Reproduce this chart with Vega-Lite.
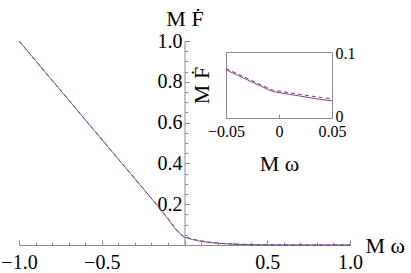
{
  "$schema": "https://vega.github.io/schema/vega-lite/v6.json",
  "width": 331,
  "height": 204,
  "autosize": "none",
  "padding": {"left": 19, "top": 41, "right": 61, "bottom": 28},
  "background": "white",
  "config": {
    "font": "Liberation Serif",
    "view": {"stroke": null},
    "axis": {
      "grid": false,
      "labelFont": "Liberation Serif",
      "titleFont": "Liberation Serif",
      "labelColor": "black",
      "titleColor": "black",
      "titleFontWeight": "normal",
      "domainColor": "#8c8c8c",
      "tickColor": "#8c8c8c",
      "domainWidth": 1,
      "tickWidth": 1,
      "labelFlush": false,
      "labelOverlap": false,
      "labelBound": false
    }
  },
  "datasets": {
    "main": [
      {"w": -1.0, "F": 1.0, "s": "a"}, {"w": -0.9, "F": 0.904, "s": "a"}, {"w": -0.8, "F": 0.807, "s": "a"},
      {"w": -0.7, "F": 0.711, "s": "a"}, {"w": -0.6, "F": 0.614, "s": "a"}, {"w": -0.5, "F": 0.518, "s": "a"},
      {"w": -0.4, "F": 0.421, "s": "a"}, {"w": -0.3, "F": 0.325, "s": "a"}, {"w": -0.2, "F": 0.228, "s": "a"},
      {"w": -0.15, "F": 0.18, "s": "a"}, {"w": -0.1, "F": 0.128, "s": "a"}, {"w": -0.05, "F": 0.073, "s": "a"},
      {"w": -0.006, "F": 0.0402, "s": "a"}, {"w": 0.0, "F": 0.0385, "s": "a"}, {"w": 0.05, "F": 0.026, "s": "a"},
      {"w": 0.1, "F": 0.018, "s": "a"}, {"w": 0.15, "F": 0.0125, "s": "a"}, {"w": 0.2, "F": 0.0085, "s": "a"},
      {"w": 0.25, "F": 0.0058, "s": "a"}, {"w": 0.3, "F": 0.004, "s": "a"}, {"w": 0.4, "F": 0.0018, "s": "a"},
      {"w": 0.5, "F": 0.0008, "s": "a"}, {"w": 0.6, "F": 0.0003, "s": "a"}, {"w": 0.8, "F": 0.0001, "s": "a"},
      {"w": 1.0, "F": 0.0, "s": "a"},
      {"w": -1.0, "F": 1.0, "s": "b"}, {"w": -0.9, "F": 0.904, "s": "b"}, {"w": -0.8, "F": 0.807, "s": "b"},
      {"w": -0.7, "F": 0.711, "s": "b"}, {"w": -0.6, "F": 0.614, "s": "b"}, {"w": -0.5, "F": 0.518, "s": "b"},
      {"w": -0.4, "F": 0.421, "s": "b"}, {"w": -0.3, "F": 0.325, "s": "b"}, {"w": -0.2, "F": 0.229, "s": "b"},
      {"w": -0.15, "F": 0.181, "s": "b"}, {"w": -0.1, "F": 0.13, "s": "b"}, {"w": -0.05, "F": 0.075, "s": "b"},
      {"w": -0.006, "F": 0.0422, "s": "b"}, {"w": 0.0, "F": 0.0408, "s": "b"}, {"w": 0.05, "F": 0.029, "s": "b"},
      {"w": 0.1, "F": 0.0205, "s": "b"}, {"w": 0.15, "F": 0.0142, "s": "b"}, {"w": 0.2, "F": 0.0097, "s": "b"},
      {"w": 0.25, "F": 0.0066, "s": "b"}, {"w": 0.3, "F": 0.0045, "s": "b"}, {"w": 0.4, "F": 0.002, "s": "b"},
      {"w": 0.5, "F": 0.0009, "s": "b"}, {"w": 0.6, "F": 0.0004, "s": "b"}, {"w": 0.8, "F": 0.0001, "s": "b"},
      {"w": 1.0, "F": 0.0, "s": "b"}
    ],
    "insetA": [
      {"w": -0.05, "F": 0.073}, {"w": -0.04, "F": 0.0655}, {"w": -0.03, "F": 0.058}, {"w": -0.02, "F": 0.0505},
      {"w": -0.01, "F": 0.043}, {"w": -0.006, "F": 0.0402}, {"w": 0.0, "F": 0.0385}, {"w": 0.01, "F": 0.0357},
      {"w": 0.02, "F": 0.0332}, {"w": 0.03, "F": 0.0305}, {"w": 0.04, "F": 0.028}, {"w": 0.05, "F": 0.026}
    ],
    "insetB": [
      {"w": -0.05, "F": 0.075}, {"w": -0.04, "F": 0.0675}, {"w": -0.03, "F": 0.06}, {"w": -0.02, "F": 0.0525},
      {"w": -0.01, "F": 0.045}, {"w": -0.006, "F": 0.0422}, {"w": 0.0, "F": 0.0408}, {"w": 0.01, "F": 0.0382},
      {"w": 0.02, "F": 0.0358}, {"w": 0.03, "F": 0.0333}, {"w": 0.04, "F": 0.031}, {"w": 0.05, "F": 0.029}
    ]
  },
  "resolve": {"scale": {"x": "independent", "y": "independent"}, "axis": {"x": "independent", "y": "independent"}},
  "layer": [
    {
      "data": {"name": "main"},
      "mark": {"type": "line", "strokeWidth": 1, "clip": false},
      "encoding": {
        "x": {
          "field": "w", "type": "quantitative",
          "scale": {"domain": [-1, 1], "nice": false, "zero": false},
          "axis": {
            "orient": "bottom",
            "values": [-1, -0.9, -0.8, -0.7, -0.6, -0.5, -0.4, -0.3, -0.2, -0.1, 0, 0.1, 0.2, 0.3, 0.4, 0.5, 0.6, 0.7, 0.8, 0.9, 1],
            "labelExpr": "abs(datum.value) > 0.001 && abs(datum.value*2 - round(datum.value*2)) < 0.001 ? format(datum.value, '.1f') : ''",
            "tickSize": {"condition": {"test": "abs(datum.value*2 - round(datum.value*2)) < 0.001", "value": -5}, "value": -3},
            "labelPadding": 12.5,
            "labelFont": "Liberation Serif",
            "labelFontSize": 20,
            "title": "M ω",
            "titleFont": "Liberation Serif",
            "titleFontSize": 22,
            "titleX": 346,
            "titleY": 0,
            "titleAlign": "left",
            "titleBaseline": "middle"
          }
        },
        "y": {
          "field": "F", "type": "quantitative",
          "scale": {"domain": [0, 1], "nice": false, "zero": false},
          "axis": {
            "orient": "left",
            "offset": -165.5,
            "values": [0, 0.05, 0.1, 0.15, 0.2, 0.25, 0.3, 0.35, 0.4, 0.45, 0.5, 0.55, 0.6, 0.65, 0.7, 0.75, 0.8, 0.85, 0.9, 0.95, 1],
            "labelExpr": "datum.value > 0.001 && abs(datum.value*5 - round(datum.value*5)) < 0.001 ? format(datum.value, '.1f') : ''",
            "tickSize": {"condition": {"test": "abs(datum.value*5 - round(datum.value*5)) < 0.001", "value": -5}, "value": -3},
            "labelPadding": 7.5,
            "labelFont": "Liberation Serif",
            "labelFontSize": 20,
            "title": "M Ḟ",
            "titleFont": "Liberation Serif",
            "titleFontSize": 22,
            "titleAngle": 0,
            "titleX": 0,
            "titleY": -16,
            "titleAlign": "center",
            "titleBaseline": "alphabetic"
          }
        },
        "color": {"field": "s", "type": "nominal", "scale": {"domain": ["a", "b"], "range": ["#9b3d73", "#4a4aa8"]}, "legend": null},
        "strokeDash": {"field": "s", "type": "nominal", "scale": {"domain": ["a", "b"], "range": [[1, 0], [4, 3]]}, "legend": null}
      }
    },
    {
      "data": {"name": "insetA"},
      "mark": {"type": "line", "strokeWidth": 1, "color": "#9b3d73", "clip": false},
      "encoding": {
        "x": {
          "field": "w", "type": "quantitative",
          "scale": {"domain": [-0.05, 0.05], "range": [207, 313], "nice": false, "zero": false},
          "axis": {
            "orient": "bottom",
            "offset": -127,
            "values": [-0.05, 0, 0.05],
            "labelExpr": "datum.value == 0 ? '0' : format(datum.value, '.2f')",
            "tickSize": -4,
            "labelPadding": 9.5,
            "labelFont": "Liberation Serif",
            "labelFontSize": 16,
            "title": "M ω",
            "titleFont": "Liberation Serif",
            "titleFontSize": 22,
            "titleX": 260,
            "titleY": 45,
            "titleAlign": "center",
            "titleBaseline": "middle"
          }
        },
        "y": {
          "field": "F", "type": "quantitative",
          "scale": {"domain": [0, 0.1], "range": [77, 11], "nice": false, "zero": false},
          "axis": {
            "orient": "left",
            "offset": -207,
            "ticks": false,
            "labels": false,
            "title": "M Ḟ",
            "titleFont": "Liberation Serif",
            "titleFontSize": 22,
            "titleAngle": 270,
            "titleX": -25,
            "titleY": 44,
            "titleAlign": "center",
            "titleBaseline": "middle"
          }
        }
      }
    },
    {
      "data": {"name": "insetB"},
      "mark": {"type": "line", "strokeWidth": 1, "color": "#4a4aa8", "strokeDash": [4, 3], "clip": false},
      "encoding": {
        "x": {
          "field": "w", "type": "quantitative",
          "scale": {"domain": [-0.05, 0.05], "range": [207, 313], "nice": false, "zero": false},
          "axis": {
            "orient": "top",
            "offset": -11,
            "ticks": false,
            "labels": false,
            "title": null
          }
        },
        "y": {
          "field": "F", "type": "quantitative",
          "scale": {"domain": [0, 0.1], "range": [77, 11], "nice": false, "zero": false},
          "axis": {
            "orient": "right",
            "offset": -18,
            "values": [0, 0.1],
            "labelExpr": "datum.value == 0 ? '0' : format(datum.value, '.1f')",
            "labelOffset": {"condition": {"test": "datum.value == 0", "value": -2}, "value": 1},
            "ticks": false,
            "labelPadding": 3,
            "labelFont": "Liberation Serif",
            "labelFontSize": 16,
            "title": null
          }
        }
      }
    }
  ]
}
